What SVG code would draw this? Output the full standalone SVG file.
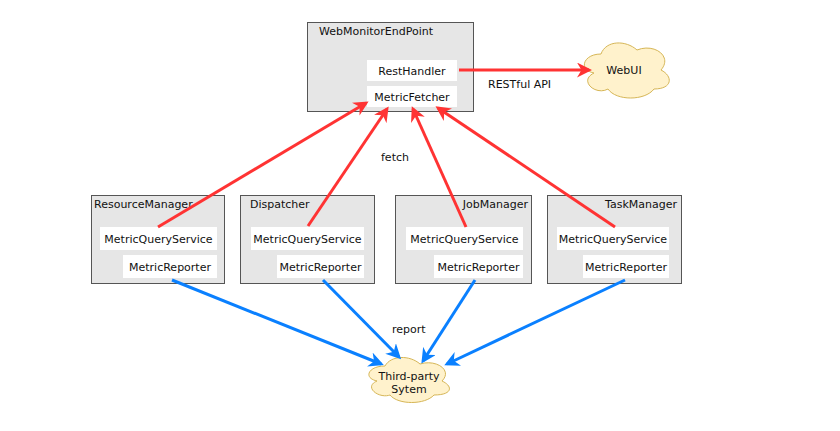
<svg xmlns="http://www.w3.org/2000/svg" width="840" height="431" viewBox="0 0 840 431">
  <style>
    text { font-family: "DejaVu Sans", Verdana, sans-serif; font-size: 11px; fill: #111; }
    .box { fill: #e6e6e6; stroke: #555; stroke-width: 1; }
    .inner { fill: #fff; stroke: none; }
    .cloud { fill: #fff2cc; stroke: #d6b656; stroke-width: 1; }
    .red { stroke: #ff3333; stroke-width: 3; fill: none; marker-end: url(#ar); }
    .blue { stroke: #0a80ff; stroke-width: 3; fill: none; marker-end: url(#ab); }
    .c { text-anchor: middle; }
    .e { text-anchor: end; }
  </style>
  <defs>
    <marker id="ar" viewBox="0 0 10 10" refX="8" refY="5" markerWidth="5" markerHeight="5" orient="auto" markerUnits="strokeWidth">
      <path d="M0,0 L10,5 L0,10 L3,5 Z" fill="#ff3333"/>
    </marker>
    <marker id="ab" viewBox="0 0 10 10" refX="8" refY="5" markerWidth="5" markerHeight="5" orient="auto" markerUnits="strokeWidth">
      <path d="M0,0 L10,5 L0,10 L3,5 Z" fill="#0a80ff"/>
    </marker>
  </defs>
  <rect width="840" height="431" fill="#fff"/>

  <g id="webmonitor">
    <rect class="box" x="307.5" y="22.5" width="166" height="89"/>
    <text x="319" y="35">WebMonitorEndPoint</text>
    <rect class="inner" x="367" y="60" width="90" height="21"/>
    <text class="c" x="412" y="74.5">RestHandler</text>
    <rect class="inner" x="367" y="86" width="90" height="21"/>
    <text class="c" x="412" y="100.5">MetricFetcher</text>
  </g>

  <g id="webui">
    <path class="cloud" d="M601,54 C583,54 578,70 594,73 C578,81 596,96 608,89 C616,101 645,101 654,89 C673,89 673,76 661,70 C673,56 654,43 637,50 C626,40 606,40 601,54 Z"/>
    <text class="c" x="624" y="74">WebUI</text>
  </g>

  <g id="resourcemanager">
    <rect class="box" x="91.5" y="195.5" width="133" height="88"/>
    <text x="94" y="208">ResourceManager</text>
    <rect class="inner" x="100" y="227" width="117" height="23"/>
    <text class="c" x="158.5" y="242.5">MetricQueryService</text>
    <rect class="inner" x="123" y="255" width="94" height="23"/>
    <text class="c" x="170" y="270.5">MetricReporter</text>
  </g>

  <g id="dispatcher">
    <rect class="box" x="240.5" y="195.5" width="134" height="88"/>
    <text x="250" y="208">Dispatcher</text>
    <rect class="inner" x="251" y="227" width="113" height="23"/>
    <text class="c" x="307.5" y="242.5">MetricQueryService</text>
    <rect class="inner" x="277" y="255" width="87" height="23"/>
    <text class="c" x="320.5" y="270.5">MetricReporter</text>
  </g>

  <g id="jobmanager">
    <rect class="box" x="395.5" y="195.5" width="136" height="88"/>
    <text class="e" x="528" y="208">JobManager</text>
    <rect class="inner" x="406" y="227" width="117" height="23"/>
    <text class="c" x="464.5" y="242.5">MetricQueryService</text>
    <rect class="inner" x="434" y="255" width="89" height="23"/>
    <text class="c" x="478.5" y="270.5">MetricReporter</text>
  </g>

  <g id="taskmanager">
    <rect class="box" x="547.5" y="195.5" width="134" height="88"/>
    <text class="e" x="677" y="208">TaskManager</text>
    <rect class="inner" x="557" y="227" width="112" height="23"/>
    <text class="c" x="613" y="242.5">MetricQueryService</text>
    <rect class="inner" x="583" y="255" width="86" height="23"/>
    <text class="c" x="626" y="270.5">MetricReporter</text>
  </g>

  <g id="thirdparty">
    <path class="cloud" d="M385,366 C368,366 363,378 377,381 C363,387 379,399 390,395 C398,405 425,405 434,395 C453,395 453,386 442,381 C453,370 436,359 420,364 C410,355 391,355 385,366 Z"/>
    <text class="c" x="409" y="380">Third-party</text>
    <text class="c" x="409" y="393">Sytem</text>
  </g>

  <g id="connectors">
    <line class="red" x1="459" y1="70" x2="589" y2="70"/>
    <line class="red" x1="158" y1="227" x2="366" y2="103"/>
    <line class="red" x1="308" y1="226" x2="387" y2="109"/>
    <line class="red" x1="466" y1="227" x2="413" y2="109"/>
    <line class="red" x1="615" y1="227" x2="438" y2="108"/>
    <line class="blue" x1="172" y1="280" x2="381" y2="364"/>
    <line class="blue" x1="323" y1="280" x2="399" y2="357"/>
    <line class="blue" x1="475" y1="280" x2="423" y2="361"/>
    <line class="blue" x1="625" y1="280" x2="447" y2="364"/>
  </g>

  <g id="labels">
    <text x="488" y="88">RESTful API</text>
    <text x="381" y="161">fetch</text>
    <text x="392" y="333">report</text>
  </g>
</svg>
